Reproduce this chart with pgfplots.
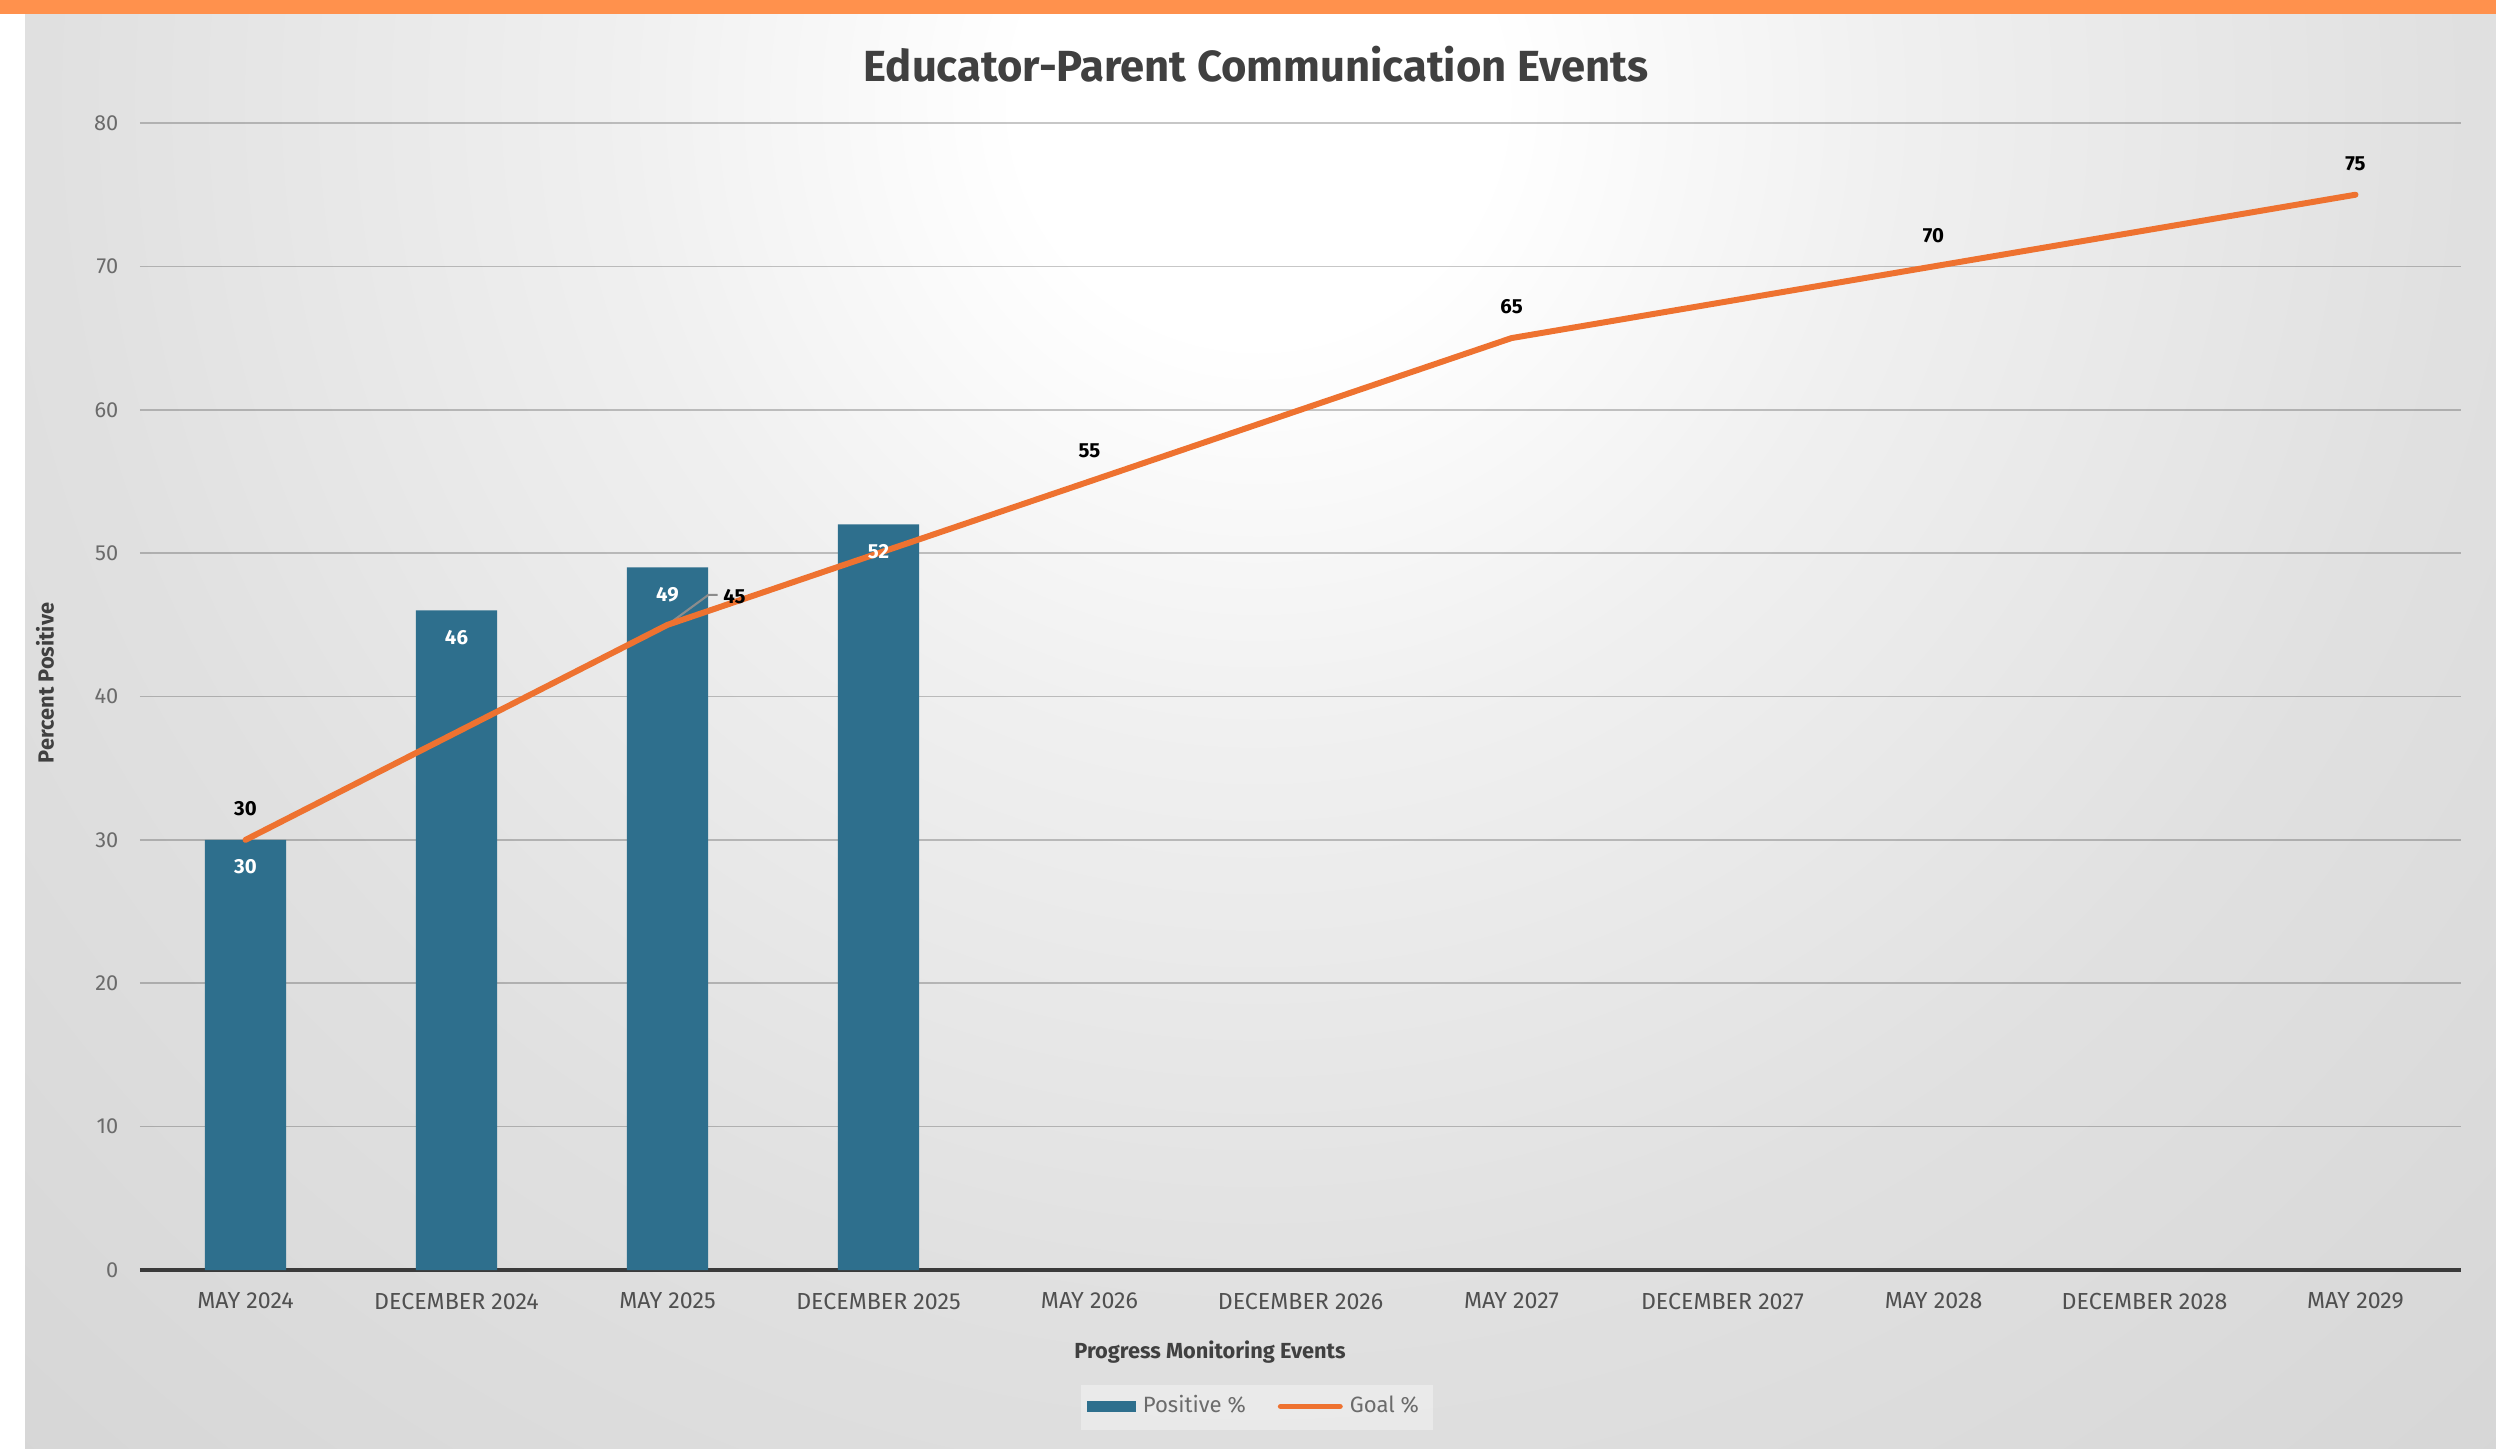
\documentclass[border=0pt]{standalone}
\usepackage{fontspec}
\setmainfont{Fira Sans}
\usepackage{pgfplots}
\pgfplotsset{compat=1.18}

\definecolor{barblue}{HTML}{2E6F8D}
\definecolor{goalorange}{HTML}{EE7230}
\definecolor{topbar}{HTML}{FF914D}
\definecolor{txtdark}{HTML}{404040}
\definecolor{txtmid}{HTML}{505050}
\definecolor{txtgray}{HTML}{6B6B6B}
\definecolor{axisdark}{HTML}{3A3A3A}

% light centre under the title, grey towards the corners
\pgfdeclareradialshading{bgshade}{\pgfpoint{0bp}{0bp}}{%
  color(0bp)=(white); color(3bp)=(white); color(8bp)=(white!94!black);
  color(15bp)=(white!88!black); color(25bp)=(white!83!black);
  color(35bp)=(white!79!black); color(50bp)=(white!74!black)}

\begin{document}
\begin{tikzpicture}
\path[use as bounding box] (0,0) rectangle (24.96,14.48);
\fill[white] (0,0) rectangle (24.96,14.48);
\begin{scope}
  \clip (0.25,0) rectangle (24.96,14.34);
  \shade[shading=bgshade] (12.58,13.48) circle (20);
\end{scope}
\fill[topbar] (0,14.34) rectangle (24.96,14.48);

% title and axis titles
\node[font=\bfseries\fontsize{12.4}{14}\selectfont, text=txtdark] at (12.56,13.84)
  {Educator-Parent Communication Events};
\node[font=\bfseries\fontsize{6.2}{7}\selectfont, text=txtdark] at (12.10,0.96)
  {Progress Monitoring Events};
\node[font=\bfseries\fontsize{6.2}{7}\selectfont, text=txtdark, rotate=90] at (0.45,7.65)
  {Percent Positive};

% legend box
\fill[white, opacity=0.35] (10.81,0.18) rectangle (14.33,0.63);

\begin{axis}[
    at={(1.40cm,1.78cm)}, anchor=south west,
    scale only axis, width=23.21cm, height=11.47cm,
    xmin=-0.5, xmax=10.5, ymin=0, ymax=80,
    xtick={0,...,10},
    xticklabels={MAY 2024, DECEMBER 2024, MAY 2025, DECEMBER 2025, MAY 2026,
      DECEMBER 2026, MAY 2027, DECEMBER 2027, MAY 2028, DECEMBER 2028, MAY 2029},
    ytick={0,10,...,80},
    axis x line*=bottom, axis y line*=left,
    x axis line style={-, draw=axisdark, line width=1.4pt},
    y axis line style={draw=none},
    major tick length=0pt,
    ymajorgrids,
    major grid style={draw=black, opacity=0.22, line width=0.45pt},
    /pgf/number format/assume math mode=true,
    yticklabel style={font=\fontsize{6.2}{7}\selectfont, text=txtgray,
      anchor=east, inner sep=0pt, xshift=-2.1mm},
    xticklabel style={font=\fontsize{6.6}{8}\selectfont, text=txtmid,
      anchor=center, yshift=-3.1mm},
    legend columns=2,
    legend cell align=left,
    legend style={at={(0.481,-0.119)}, anchor=center, draw=none, fill=none,
      font=\fontsize{6.3}{8}\selectfont, text=txtgray,
      /tikz/every even column/.append style={column sep=2.5mm}},
]

\addplot[ybar, bar width=0.385, fill=barblue, draw=none,
    nodes near coords,
    every node near coord/.append style={font=\bfseries\fontsize{5.8}{7}\selectfont,
      text=white, anchor=center, yshift=-2.7mm},
    legend image code/.code={\fill[barblue] (0mm,-0.55mm) rectangle (4.9mm,0.55mm);}]
  coordinates {(0,30) (1,46) (2,49) (3,52)};
\addlegendentry{Positive \%}

% leader line of the 45 label
\draw[black!45, line width=0.6pt] (axis cs:2,45)
  -- ([shift={(4.1mm,3.0mm)}]axis cs:2,45)
  -- ([shift={(5.0mm,3.0mm)}]axis cs:2,45);

\addplot[goalorange, line width=1.7pt, line join=round, line cap=round, mark=none,
    point meta=explicit symbolic, nodes near coords,
    every node near coord/.append style={font=\bfseries\fontsize{5.8}{7}\selectfont,
      text=black, anchor=center, yshift=3.1mm},
    legend image code/.code={\draw[goalorange, line width=1.7pt] (0mm,0mm) -- (5.9mm,0mm);}]
  coordinates {(0,30) [30] (2,45) [] (4,55) [55] (6,65) [65] (8,70) [70] (10,75) [75]};
\addlegendentry{Goal \%}

\node[font=\bfseries\fontsize{5.8}{7}\selectfont, text=black, xshift=6.7mm, yshift=2.8mm]
  at (axis cs:2,45) {45};

\end{axis}
\end{tikzpicture}
\end{document}
